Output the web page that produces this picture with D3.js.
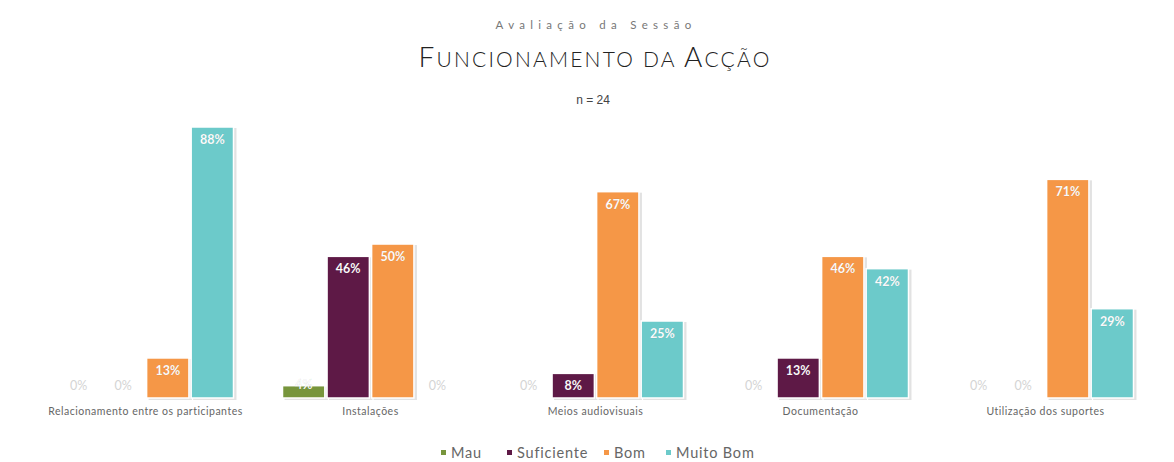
<!DOCTYPE html>
<html><head><meta charset="utf-8">
<script src="https://cdn.jsdelivr.net/npm/d3@7"></script>
<style>body{margin:0;background:#fff;} svg{display:block;}</style>
</head><body>
<script>
const categories = ["Relacionamento entre os participantes","Instalações","Meios audiovisuais","Documentação","Utilização dos suportes"];
const seriesNames = ["Mau","Suficiente","Bom","Muito Bom"];
const mau = [0,4,0,0,0];
const suficiente = [0,46,8,13,0];
const bom = [13,50,67,46,71];
const muitoBom = [88,0,25,42,29];
const colors = ["#77953c","#5e1946","#f59747","#6ccaca"];
const seriesValues = [mau, suficiente, bom, muitoBom];

const W=1174,H=462;
const svg=d3.select("body").append("svg").attr("width",W).attr("height",H);
const font="Lato, 'DejaVu Sans', sans-serif";

svg.append("text").attr("x",596).attr("y",29).attr("text-anchor","middle")
  .attr("font-family",font).attr("font-size",11.5).attr("fill","#777").attr("letter-spacing","5.3px")
  .text("Avaliação da Sessão");
const t=svg.append("text").attr("x",595).attr("y",67).attr("text-anchor","middle")
  .attr("font-family",font).attr("fill","#222").attr("font-weight",300).attr("letter-spacing","2.2px");
const titleWords=["Funcionamento","da","Acção"];
titleWords.forEach((w,i)=>{
  if(i>0) t.append("tspan").attr("font-size",21).text(" ");
  const cap = w[0]===w[0].toUpperCase();
  if(cap){
    t.append("tspan").attr("font-size",28).text(w[0]);
    t.append("tspan").attr("font-size",21).text(w.slice(1).toUpperCase());
  } else {
    t.append("tspan").attr("font-size",21).text(w.toUpperCase());
  }
});
svg.append("text").attr("x",593).attr("y",104).attr("text-anchor","middle")
  .attr("font-family","Liberation Sans, Arial, sans-serif").attr("font-size",12).attr("fill","#444").text("n = 24");

const x0=d3.scaleBand().domain(categories).range([33,1158]).paddingInner(0).paddingOuter(0);
const x1=d3.scaleBand().domain(seriesNames).range([0,x0.bandwidth()]).paddingInner(0.05).paddingOuter(0.55);
const y=d3.scaleLinear().domain([0,88]).range([398,127]);

const data=[];
categories.forEach((c,ci)=>seriesNames.forEach((s,si)=>data.push({c,s,si,v:seriesValues[si][ci]})));

const g=svg.append("g");
const bars=data.filter(d=>d.v>0);
g.selectAll("rect.sh").data(bars).join("rect").attr("class","sh")
  .attr("x",d=>x0(d.c)+x1(d.s)+2).attr("y",d=>y(d.v)+1)
  .attr("width",x1.bandwidth()+1).attr("height",d=>y(0)-y(d.v)+1).attr("fill","#e2e2e2");
g.selectAll("rect.b").data(bars).join("rect").attr("class","b")
  .attr("x",d=>x0(d.c)+x1(d.s)).attr("y",d=>y(d.v))
  .attr("width",x1.bandwidth()).attr("height",d=>y(0)-y(d.v)).attr("fill",d=>colors[d.si])
  .attr("stroke","#fff").attr("stroke-width",1.5);

g.selectAll("text.v").data(data).join("text").attr("class","v")
  .attr("x",d=>x0(d.c)+x1(d.s)+x1.bandwidth()/2)
  .attr("y",d=>d.v===0?y(0)-8:(d.v<6?y(d.v)+3:y(d.v)+17))
  .attr("text-anchor","middle").attr("font-family",font).attr("font-size",12.5)
  .attr("font-weight",d=>d.v===0?400:700)
  .attr("fill",d=>d.v===0?"#d4d4d4":"#fff")
  .attr("stroke",d=>d.v===0?"none":"rgba(0,0,0,0.15)").attr("stroke-width",0.4)
  .text(d=>d.v+"%");

svg.append("g").selectAll("text").data(categories).join("text")
  .attr("x",d=>x0(d)+x0.bandwidth()/2).attr("y",415).attr("text-anchor","middle")
  .attr("font-family",font).attr("font-size",10.5).attr("letter-spacing","0.5px").attr("fill","#666").text(d=>d);

const legX=[441,507,604,666];
const lg=svg.append("g");
seriesNames.forEach((s,i)=>{
  lg.append("rect").attr("x",legX[i]).attr("y",450).attr("width",5).attr("height",5).attr("fill",colors[i]);
  lg.append("text").attr("x",legX[i]+10).attr("y",458).attr("font-family",font).attr("font-size",14.5)
    .attr("letter-spacing","0.8px").attr("fill","#666").text(s);
});
</script>
</body></html>
